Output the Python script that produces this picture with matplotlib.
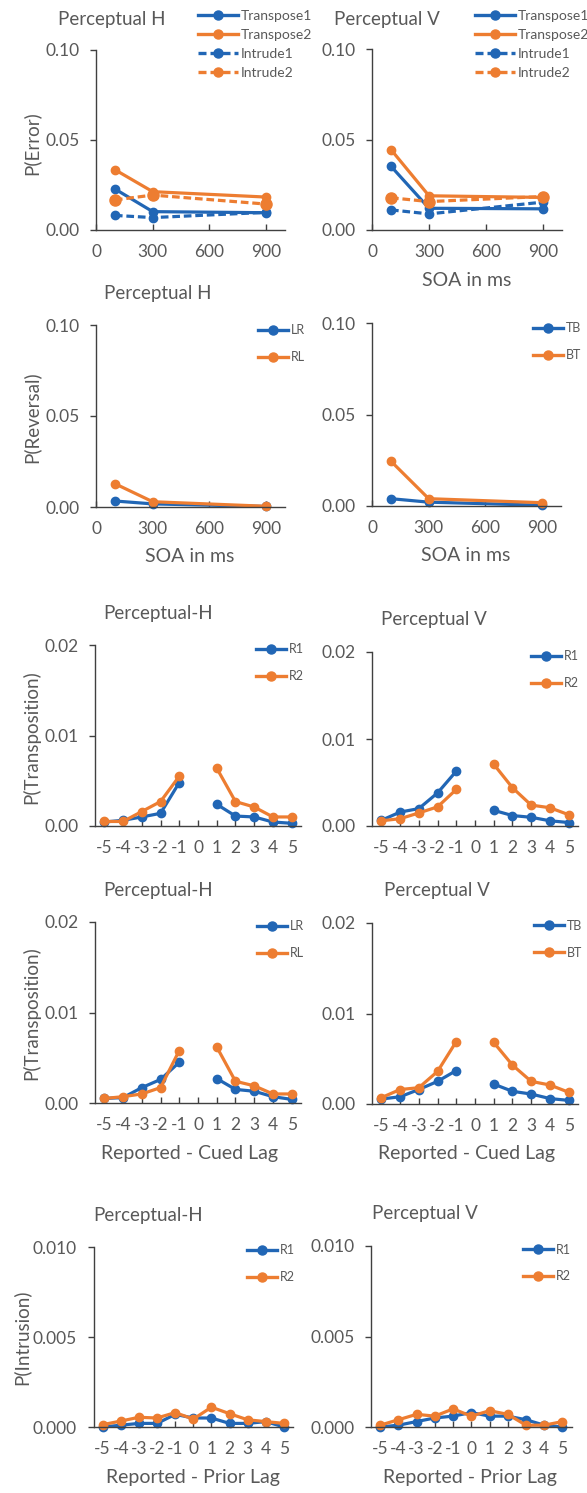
import numpy as np
import matplotlib
matplotlib.use("Agg")
import matplotlib.pyplot as plt

plt.rcParams['font.family'] = ['Lato', 'DejaVu Sans']

# ---------------- data ----------------
soa = [100, 300, 900]
soa_ticks = [0, 300, 600, 900]

err_H_transpose1 = [0.0228, 0.0102, 0.0096]
err_H_transpose2 = [0.0335, 0.0213, 0.0183]
err_H_intrude1 = [0.0081, 0.0069, 0.0098]
err_H_intrude2 = [0.0167, 0.0194, 0.0144]

err_V_transpose1 = [0.0352, 0.0120, 0.0117]
err_V_transpose2 = [0.0444, 0.0189, 0.0180]
err_V_intrude1 = [0.0111, 0.0089, 0.0154]
err_V_intrude2 = [0.0178, 0.0157, 0.0185]

rev_H_LR = [0.0033, 0.0017, 0.0003]
rev_H_RL = [0.0128, 0.0029, 0.0004]
rev_V_TB = [0.0040, 0.0021, 0.0004]
rev_V_BT = [0.0245, 0.0040, 0.0018]

lags = [-5, -4, -3, -2, -1, 0, 1, 2, 3, 4, 5]
nan = np.nan

tr_H_R1 = [0.00044, 0.00063, 0.0010, 0.0014, 0.0048, nan, 0.0024, 0.0011, 0.0010, 0.00044, 0.0003]
tr_H_R2 = [0.0005, 0.0005, 0.0016, 0.0027, 0.0055, nan, 0.0064, 0.0027, 0.0021, 0.0010, 0.0010]
tr_V_R1 = [0.00065, 0.0016, 0.0020, 0.0038, 0.0063, nan, 0.0018, 0.0012, 0.0010, 0.0006, 0.0004]
tr_V_R2 = [0.0006, 0.00084, 0.0015, 0.0022, 0.0042, nan, 0.0071, 0.0044, 0.0024, 0.0021, 0.0013]

tr_H_LR = [0.0005, 0.0006, 0.0017, 0.0026, 0.0045, nan, 0.0027, 0.0015, 0.0013, 0.0007, 0.0004]
tr_H_RL = [0.0005, 0.0007, 0.0010, 0.0017, 0.0058, nan, 0.0062, 0.0024, 0.0019, 0.0010, 0.0010]
tr_V_TB = [0.00055, 0.0008, 0.0016, 0.0025, 0.0037, nan, 0.0022, 0.0014, 0.0011, 0.0006, 0.0004]
tr_V_BT = [0.0007, 0.0016, 0.0018, 0.0036, 0.0069, nan, 0.0068, 0.0043, 0.0025, 0.0021, 0.0013]

in_H_R1 = [0.0, 0.0001, 0.0002, 0.0002, 0.0007, 0.0005, 0.0005, 0.0002, 0.0002, 0.0003, 0.0]
in_H_R2 = [0.00013, 0.00033, 0.00054, 0.0005, 0.0008, 0.00044, 0.0011, 0.00074, 0.0004, 0.0003, 0.0002]
in_V_R1 = [0.0, 0.0001, 0.0003, 0.0005, 0.0006, 0.0008, 0.0006, 0.0006, 0.0004, 0.0001, 0.0]
in_V_R2 = [0.0001, 0.0004, 0.0007, 0.0006, 0.0010, 0.0006, 0.0009, 0.0007, 0.0001, 0.0001, 0.0003]

# ---------------- style ----------------
BLUE = '#2166B5'
ORANGE = '#ED7D31'
TXT = '#595959'
AX = '#404040'
W, H = 587, 1493

TITLE_FS = 13.5
TICK_FS = 12.5
LAB_FS = 14

fig = plt.figure(figsize=(W / 100, H / 100), dpi=100)


def make_ax(x0, x1, ytop, ybot):
    return fig.add_axes([x0 / W, 1 - ybot / H, (x1 - x0) / W, (ybot - ytop) / H])


def style(ax, xlim, ylim, yticks, yfmt, xticks, xlabels, tick_fs=TICK_FS):
    ax.set_xlim(*xlim)
    ax.set_ylim(*ylim)
    for s in ('top', 'right'):
        ax.spines[s].set_visible(False)
    for s in ('left', 'bottom'):
        ax.spines[s].set_color(AX)
        ax.spines[s].set_linewidth(1.0)
    ax.set_yticks(yticks)
    ax.set_yticklabels([yfmt.format(v) for v in yticks])
    ax.set_xticks(xticks)
    ax.set_xticklabels(xlabels)
    ax.tick_params(axis='y', direction='out', length=4, width=1, color=AX,
                   labelcolor=TXT, labelsize=tick_fs, pad=8)
    ax.tick_params(axis='x', direction='in', length=4, width=1, color=AX,
                   labelcolor=TXT, labelsize=tick_fs, pad=10)
    ax.patch.set_alpha(0)


def ftext(x, y, s, size=TITLE_FS, rot=0):
    fig.text(x / W, 1 - y / H, s, ha='center', va='center', color=TXT,
             fontsize=size, rotation=rot)


def legend(ax, xpx, ypx, fs, spacing, hl):
    leg = ax.legend(loc='center left', bbox_to_anchor=(xpx / W, 1 - ypx / H),
                    bbox_transform=fig.transFigure, frameon=False, fontsize=fs,
                    borderpad=0, borderaxespad=0, handlelength=hl,
                    handletextpad=0.2, labelspacing=spacing, numpoints=1)
    for t in leg.get_texts():
        t.set_color(TXT)
    for h in leg.legend_handles:
        h.set_markersize(6.5)
        h.set_linewidth(2.4)
    leg.set_clip_on(False)
    return leg


LW = 2.3
MS = 6
dash = (0, (2.4, 1.2))

# ---------------- Row 1: P(Error) ----------------
for (x0, x1, yt, yb, t1, t2, i1, i2, lx) in [
        (96, 285, 50, 230, err_H_transpose1, err_H_transpose2, err_H_intrude1, err_H_intrude2, 198),
        (372, 562, 49, 230, err_V_transpose1, err_V_transpose2, err_V_intrude1, err_V_intrude2, 475)]:
    ax = make_ax(x0, x1, yt, yb)
    ax.plot(soa, t1, '-o', color=BLUE, lw=LW, ms=MS, label='Transpose1', clip_on=False)
    ax.plot(soa, t2, '-o', color=ORANGE, lw=LW, ms=MS, label='Transpose2', clip_on=False)
    ax.plot(soa, i1, marker='o', ls=dash, color=BLUE, lw=LW, ms=MS, label='Intrude1', clip_on=False)
    ax.plot(soa, i2, marker='o', ls=dash, color=ORANGE, lw=LW, ms=8, label='Intrude2', clip_on=False)
    style(ax, (0, 1000), (0, 0.10), [0, 0.05, 0.10], '{:.2f}', soa_ticks, [str(v) for v in soa_ticks])
    legend(ax, lx, 44.5, 10, 0.5, 2.9)

ftext(112, 20, 'Perceptual H')
ftext(387, 20, 'Perceptual V')
ftext(31, 143, 'P(Error)', size=LAB_FS - 0.5, rot=90)
ftext(467, 281, 'SOA in ms', size=LAB_FS)

# ---------------- Row 2: P(Reversal) ----------------
for (x0, x1, yt, yb, a, b, la, lb, lx, ly) in [
        (96, 285, 325, 507, rev_H_LR, rev_H_RL, 'LR', 'RL', 258, 343.5),
        (372, 561, 323, 506, rev_V_TB, rev_V_BT, 'TB', 'BT', 533, 341.5)]:
    ax = make_ax(x0, x1, yt, yb)
    ax.plot(soa, a, '-o', color=BLUE, lw=LW, ms=MS, label=la, clip_on=False)
    ax.plot(soa, b, '-o', color=ORANGE, lw=LW, ms=MS, label=lb, clip_on=False)
    style(ax, (0, 1000), (0, 0.10), [0, 0.05, 0.10], '{:.2f}', soa_ticks, [str(v) for v in soa_ticks])
    legend(ax, lx, ly, 9, 1.2, 2.4)

ftext(158, 293, 'Perceptual H')
ftext(31, 417, 'P(Reversal)', size=LAB_FS - 0.5, rot=90)
ftext(190, 557, 'SOA in ms', size=LAB_FS)
ftext(466, 556, 'SOA in ms', size=LAB_FS)

# ---------------- Rows 3-4: P(Transposition) ----------------
lag_labels = [str(v) for v in lags]
for (x0, x1, yt, yb, a, b, la, lb, lx, ly) in [
        (95, 301, 645, 826, tr_H_R1, tr_H_R2, 'R1', 'R2', 256, 662.5),
        (372, 578, 652, 826, tr_V_R1, tr_V_R2, 'R1', 'R2', 531, 669.5),
        (95, 301, 922, 1103, tr_H_LR, tr_H_RL, 'LR', 'RL', 257, 939.5),
        (372, 578, 923, 1104, tr_V_TB, tr_V_BT, 'TB', 'BT', 534, 939)]:
    ax = make_ax(x0, x1, yt, yb)
    ax.plot(lags, a, '-o', color=BLUE, lw=LW, ms=MS, label=la, clip_on=False)
    ax.plot(lags, b, '-o', color=ORANGE, lw=LW, ms=MS, label=lb, clip_on=False)
    style(ax, (-5.5, 5.5), (0, 0.02), [0, 0.01, 0.02], '{:.2f}', lags, lag_labels)
    legend(ax, lx, ly, 9, 1.2, 2.4)

ftext(158, 613, 'Perceptual-H')
ftext(434, 620, 'Perceptual V')
ftext(31, 737, 'P(Transposition)', size=LAB_FS - 0.5, rot=90)
ftext(158, 891, 'Perceptual-H')
ftext(437, 891, 'Perceptual V')
ftext(31, 1013, 'P(Transposition)', size=LAB_FS - 0.5, rot=90)
ftext(190, 1153, 'Reported - Cued Lag', size=LAB_FS)
ftext(467, 1153, 'Reported - Cued Lag', size=LAB_FS)

# ---------------- Row 5: P(Intrusion) ----------------
for (x0, x1, yt, yb, a, b, lx, ly) in [
        (93.6, 293, 1247, 1427, in_H_R1, in_H_R2, 247, 1263.5),
        (371, 571.6, 1246, 1427, in_V_R1, in_V_R2, 523, 1263)]:
    ax = make_ax(x0, x1, yt, yb)
    ax.plot(lags, a, '-o', color=BLUE, lw=LW, ms=MS, label='R1', clip_on=False)
    ax.plot(lags, b, '-o', color=ORANGE, lw=LW, ms=MS, label='R2', clip_on=False)
    style(ax, (-5.5, 5.5), (0, 0.010), [0, 0.005, 0.010], '{:.3f}', lags, lag_labels)
    legend(ax, lx, ly, 9, 1.2, 2.4)

ftext(148, 1215, 'Perceptual-H')
ftext(425, 1213, 'Perceptual V')
ftext(21, 1337, 'P(Intrusion)', size=LAB_FS - 0.5, rot=90)
ftext(193, 1478, 'Reported - Prior Lag', size=LAB_FS)
ftext(470, 1478, 'Reported - Prior Lag', size=LAB_FS)

fig.savefig('out.png', dpi=100, facecolor='white')
